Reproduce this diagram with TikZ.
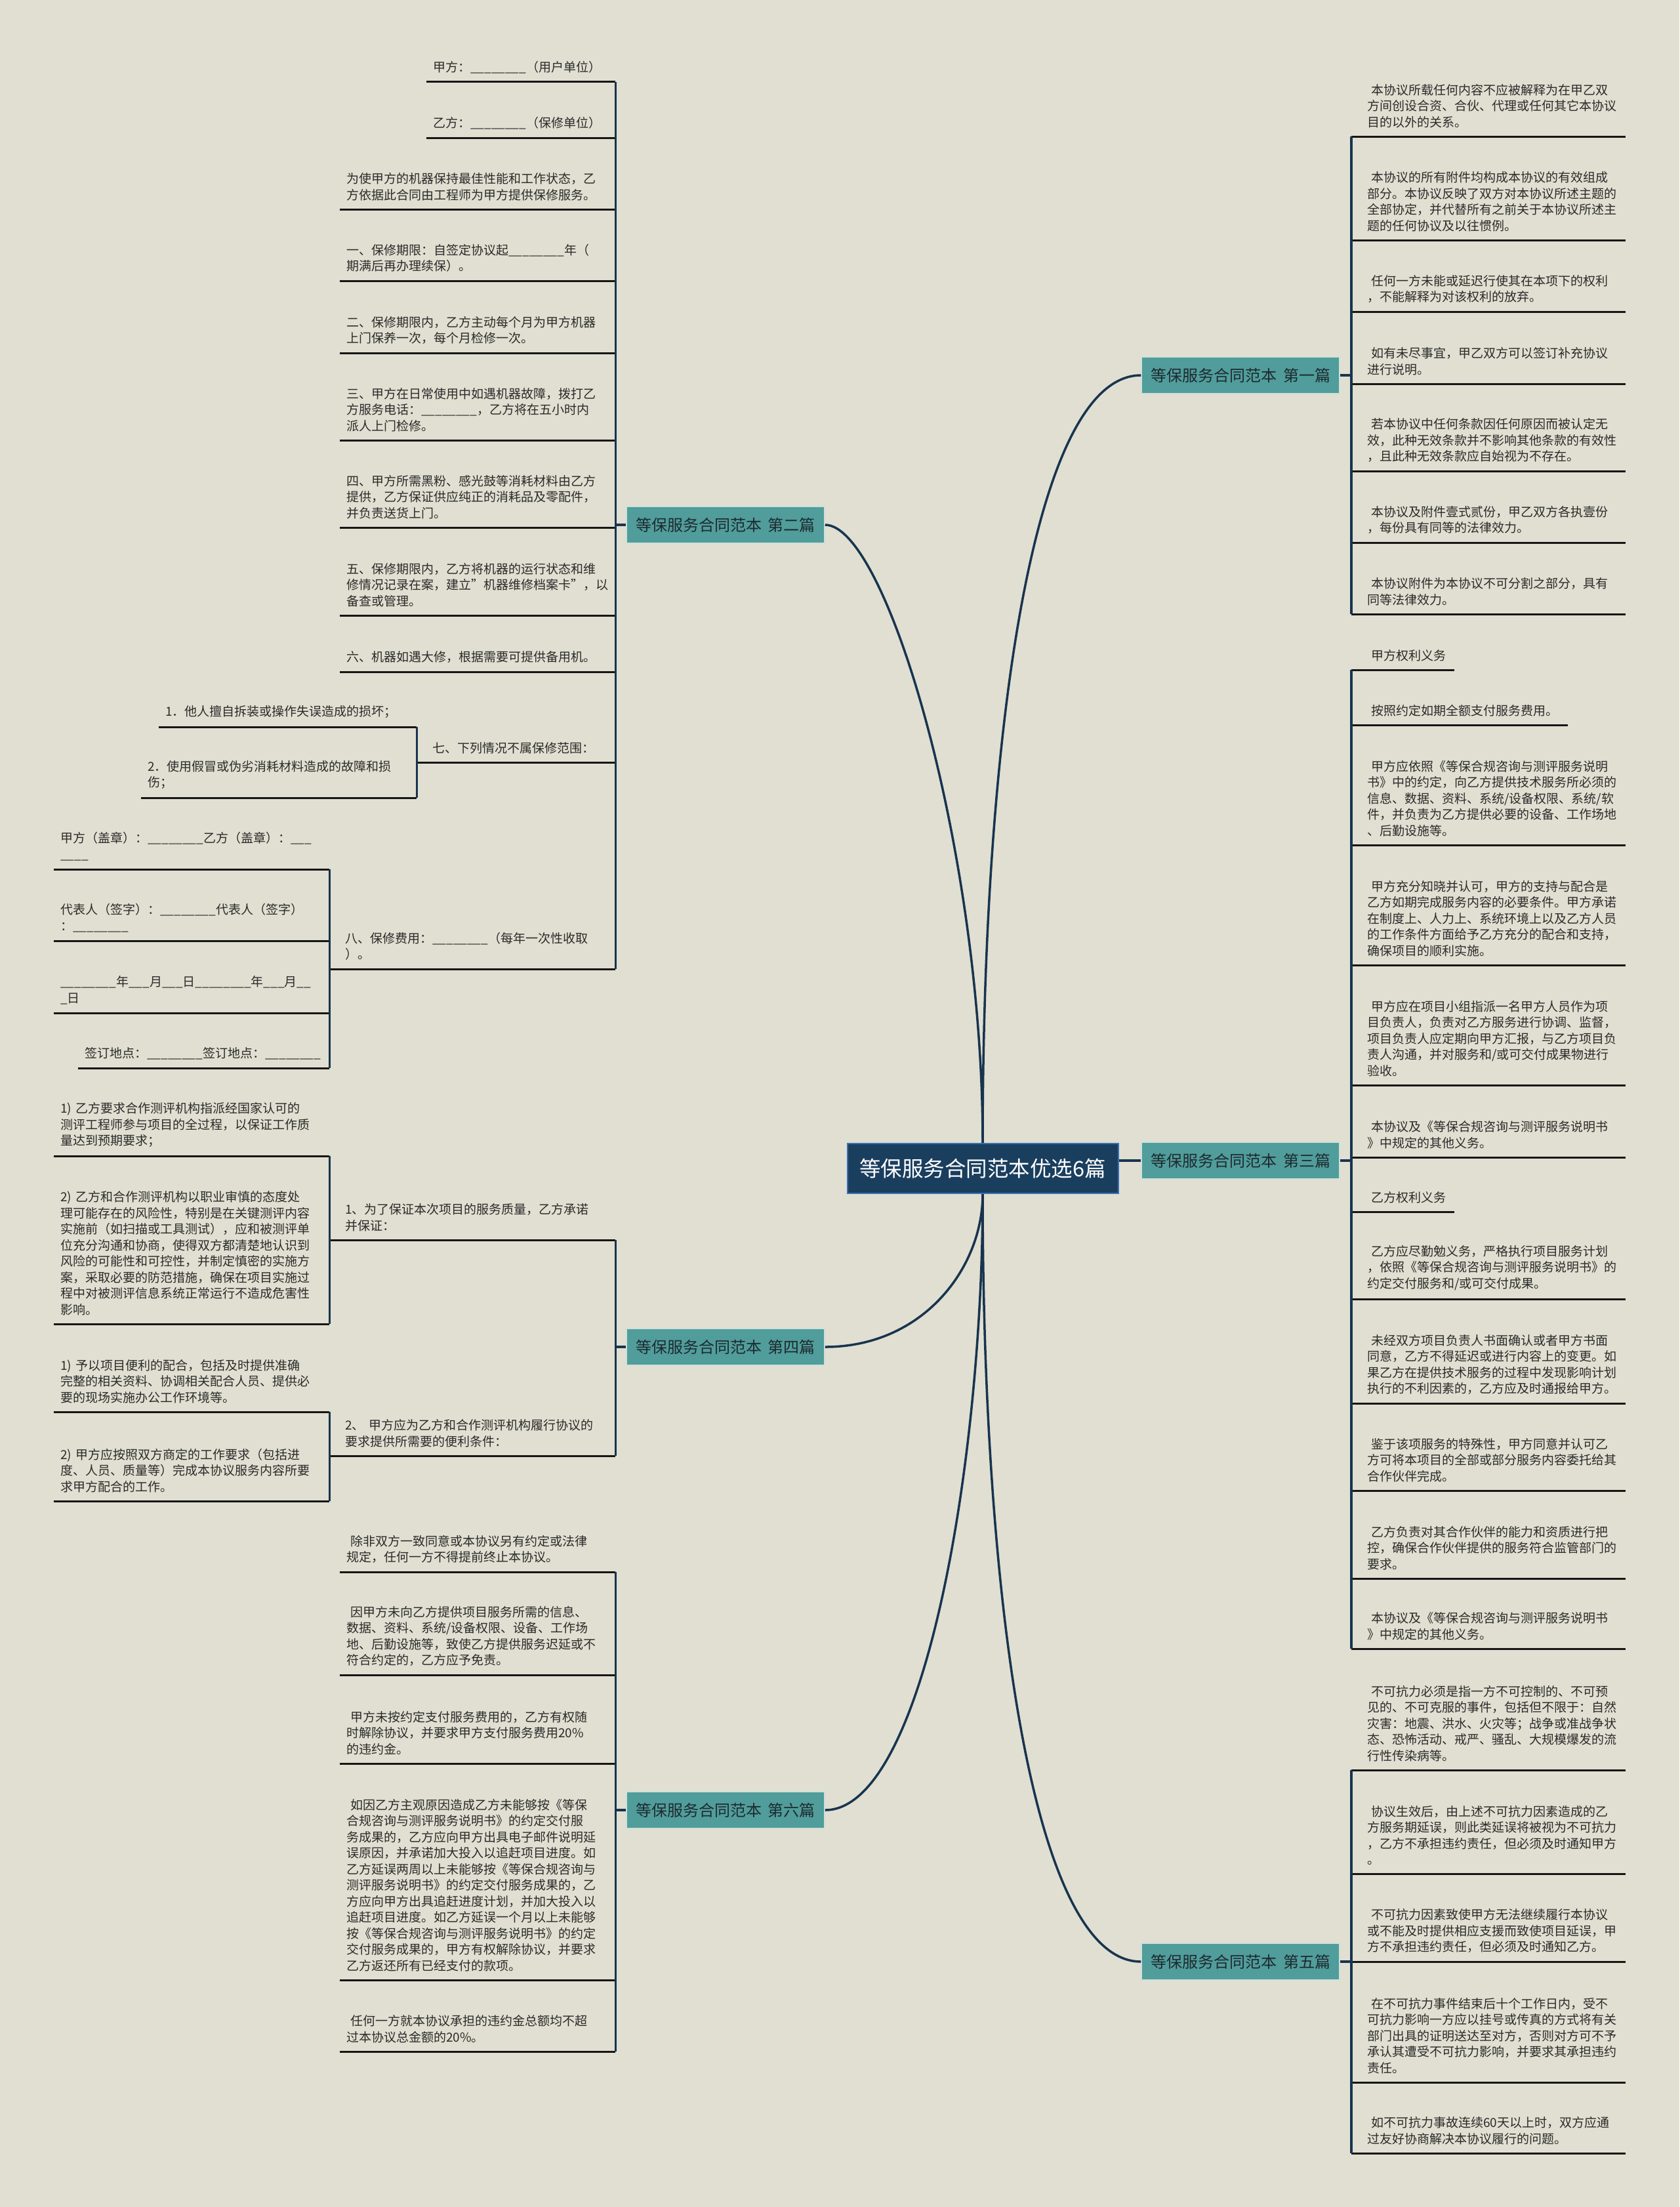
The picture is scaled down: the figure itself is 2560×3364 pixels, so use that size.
\documentclass[tikz,border=0pt]{standalone}
\usepackage{fontspec}
\setmainfont{Noto Sans CJK SC}
\usetikzlibrary{calc}
\definecolor{bgc}{RGB}{224,223,209}
\definecolor{rootfill}{RGB}{26,62,94}
\definecolor{rootline}{RGB}{60,112,182}
\definecolor{branchfill}{RGB}{80,157,155}
\definecolor{branchline}{RGB}{208,224,218}
\definecolor{branchtext}{RGB}{30,42,48}
\definecolor{linkc}{RGB}{24,52,79}
\definecolor{rulec}{RGB}{22,22,22}
\definecolor{leaftext}{RGB}{42,42,42}
\newcommand{\leaffont}{\fontsize{19pt}{24.5pt}\selectfont}
\newcommand{\indt}{\hspace*{6pt}}
\newcommand{\bl}{\_\_\_\_\_\_\_\_}
\tikzset{
  leaf/.style={
    anchor=south west,
    align=left,
    inner xsep=10pt,
    inner ysep=13pt,
    font=\leaffont,
    text=leaftext
  },
  hub/.style={
    leaf,
    inner xsep=24pt
  },
  branch/.style={
    draw=branchline,
    line width=1.5pt,
    fill=branchfill,
    text=branchtext,
    minimum width=302pt,
    minimum height=56pt,
    inner sep=0pt,
    font=\fontsize{24pt}{27pt}\selectfont
  },
  root box/.style={
    draw=rootline,
    line width=2pt,
    fill=rootfill,
    text=white,
    minimum width=413pt,
    minimum height=76pt,
    inner sep=0pt,
    font=\fontsize{32.5pt}{36pt}\selectfont
  },
  link/.style={
    draw=linkc,
    line width=3.5pt
  },
  bracket/.style={
    draw=linkc,
    line width=3.5pt
  },
  rule/.style={
    draw=rulec,
    line width=3pt
  }
}

\begin{document}
\begin{tikzpicture}[x=1pt, y=-1pt]

  %% ---- 背景 ----
  \fill[bgc] (0,0) rectangle (2560,3364);
  \useasboundingbox (0,0) rectangle (2560,3364);

  %% ---- 中心主题与六个分支 ----
  \node[root box] (root) at (1498,1781) {等保服务合同范本优选6篇};

  \node[branch] (b1) at (1891,572)  {等保服务合同范本\hspace{10pt}第一篇};
  \node[branch] (b3) at (1891,1769) {等保服务合同范本\hspace{10pt}第三篇};
  \node[branch] (b5) at (1891,2990) {等保服务合同范本\hspace{10pt}第五篇};
  \node[branch] (b2) at (1106,800)  {等保服务合同范本\hspace{10pt}第二篇};
  \node[branch] (b4) at (1106,2053) {等保服务合同范本\hspace{10pt}第四篇};
  \node[branch] (b6) at (1106,2759) {等保服务合同范本\hspace{10pt}第六篇};

  % 中心到分支的曲线
  \draw[link] (root.north) .. controls +(0,-593) and +(-170,0) .. (b1.west);
  \draw[link] (b3.west) -- (b3.west -| root.east);
  \draw[link] (root.south) .. controls +(0,593) and +(-170,0) .. (b5.west);
  \draw[link] (root.north) .. controls +(0,-443) and +(94,0) .. (b2.east);
  \draw[link] (root.south) .. controls +(0,112) and +(150,0) .. (b4.east);
  \draw[link] (root.south) .. controls +(0,412) and +(150,0) .. (b6.east);

  %% ---- 第二篇（左上）----
  \node[leaf, text width=268pt] (l2a) at (650,125) {甲方：\bl（用户单位）};
  \node[leaf, text width=268pt] (l2b) at (650,210) {乙方：\bl（保修单位）};
  \node[leaf, text width=400pt] (l2c) at (518,319)
    {为使甲方的机器保持最佳性能和工作状态，乙\\方依据此合同由工程师为甲方提供保修服务。};
  \node[leaf, text width=400pt] (l2d) at (518,428)
    {一、保修期限：自签定协议起\bl 年（\\期满后再办理续保）。};
  \node[leaf, text width=400pt] (l2e) at (518,538)
    {二、保修期限内，乙方主动每个月为甲方机器\\上门保养一次，每个月检修一次。};
  \node[leaf, text width=400pt] (l2f) at (518,671)
    {三、甲方在日常使用中如遇机器故障，拨打乙\\方服务电话：\bl，乙方将在五小时内\\派人上门检修。};
  \node[leaf, text width=400pt] (l2g) at (518,804)
    {四、甲方所需黑粉、感光鼓等消耗材料由乙方\\提供，乙方保证供应纯正的消耗品及零配件，\\并负责送货上门。};
  \node[leaf, text width=400pt] (l2h) at (518,938)
    {五、保修期限内，乙方将机器的运行状态和维\\修情况记录在案，建立"机器维修档案卡"，以\\备查或管理。};
  \node[leaf, text width=400pt] (l2i) at (518,1024)
    {六、机器如遇大修，根据需要可提供备用机。};
  \node[hub, text width=255pt] (l2j) at (635,1162) {七、下列情况不属保修范围：};
  \node[hub, text width=388pt] (l2k) at (502,1477)
    {八、保修费用：\bl（每年一次性收取\\）。};

  % 七的下级
  \node[leaf, text width=373pt] (l2j1) at (242,1108) {1．他人擅自拆装或操作失误造成的损坏；};
  \node[leaf, text width=400pt] (l2j2) at (215,1216)
    {2．使用假冒或伪劣消耗材料造成的故障和损\\伤；};

  % 八的下级
  \node[leaf, text width=400pt] (l2k1) at (82,1325)
    {甲方（盖章）：\bl 乙方（盖章）：\_\_\_\\\_\_\_\_};
  \node[leaf, text width=400pt] (l2k2) at (82,1434)
    {代表人（签字）：\bl 代表人（签字）\\：\bl};
  \node[leaf, text width=400pt] (l2k3) at (82,1544)
    {\bl 年\_\_\_月\_\_\_日\bl 年\_\_\_月\_\_\\\_日};
  \node[leaf, text width=363pt] (l2k4) at (119,1628) {签订地点：\bl 签订地点：\bl};

  %% ---- 第四篇（左中）----
  \node[hub, text width=388pt] (m1) at (502,1890)
    {1、为了保证本次项目的服务质量，乙方承诺\\并保证：};
  \node[hub, text width=388pt] (m2) at (502,2219)
    {2、 甲方应为乙方和合作测评机构履行协议的\\要求提供所需要的便利条件：};

  \node[leaf, text width=400pt] (m1a) at (82,1762)
    {1) 乙方要求合作测评机构指派经国家认可的\\测评工程师参与项目的全过程，以保证工作质\\量达到预期要求；};
  \node[leaf, text width=400pt] (m1b) at (82,2018)
    {2) 乙方和合作测评机构以职业审慎的态度处\\理可能存在的风险性，特别是在关键测评内容\\实施前（如扫描或工具测试），应和被测评单\\位充分沟通和协商，使得双方都清楚地认识到\\风险的可能性和可控性，并制定慎密的实施方\\案，采取必要的防范措施，确保在项目实施过\\程中对被测评信息系统正常运行不造成危害性\\影响。};
  \node[leaf, text width=400pt] (m2a) at (82,2152)
    {1) 予以项目便利的配合，包括及时提供准确\\完整的相关资料、协调相关配合人员、提供必\\要的现场实施办公工作环境等。};
  \node[leaf, text width=400pt] (m2b) at (82,2288)
    {2) 甲方应按照双方商定的工作要求（包括进\\度、人员、质量等）完成本协议服务内容所要\\求甲方配合的工作。};

  %% ---- 第六篇（左下）----
  \node[leaf, text width=400pt] (n1) at (518,2396)
    {\indt 除非双方一致同意或本协议另有约定或法律\\规定，任何一方不得提前终止本协议。};
  \node[leaf, text width=400pt] (n2) at (518,2553)
    {\indt 因甲方未向乙方提供项目服务所需的信息、\\数据、资料、系统/设备权限、设备、工作场\\地、后勤设施等，致使乙方提供服务迟延或不\\符合约定的，乙方应予免责。};
  \node[leaf, text width=400pt] (n3) at (518,2688)
    {\indt 甲方未按约定支付服务费用的，乙方有权随\\时解除协议，并要求甲方支付服务费用20\%\\的违约金。};
  \node[leaf, text width=400pt] (n4) at (518,3018)
    {\indt 如因乙方主观原因造成乙方未能够按《等保\\合规咨询与测评服务说明书》的约定交付服\\务成果的，乙方应向甲方出具电子邮件说明延\\误原因，并承诺加大投入以追赶项目进度。如\\乙方延误两周以上未能够按《等保合规咨询与\\测评服务说明书》的约定交付服务成果的，乙\\方应向甲方出具追赶进度计划，并加大投入以\\追赶项目进度。如乙方延误一个月以上未能够\\按《等保合规咨询与测评服务说明书》的约定\\交付服务成果的，甲方有权解除协议，并要求\\乙方返还所有已经支付的款项。};
  \node[leaf, text width=400pt] (n5) at (518,3127)
    {\indt 任何一方就本协议承担的违约金总额均不超\\过本协议总金额的20\%。};

  %% ---- 第一篇（右上）----
  \node[leaf, text width=384pt] (r1a) at (2074,208)
    {\indt 本协议所载任何内容不应被解释为在甲乙双\\方间创设合资、合伙、代理或任何其它本协议\\目的以外的关系。};
  \node[leaf, text width=384pt] (r1b) at (2074,366)
    {\indt 本协议的所有附件均构成本协议的有效组成\\部分。本协议反映了双方对本协议所述主题的\\全部协定，并代替所有之前关于本协议所述主\\题的任何协议及以往惯例。};
  \node[leaf, text width=384pt] (r1c) at (2074,475)
    {\indt 任何一方未能或延迟行使其在本项下的权利\\，不能解释为对该权利的放弃。};
  \node[leaf, text width=384pt] (r1d) at (2074,585)
    {\indt 如有未尽事宜，甲乙双方可以签订补充协议\\进行说明。};
  \node[leaf, text width=384pt] (r1e) at (2074,718)
    {\indt 若本协议中任何条款因任何原因而被认定无\\效，此种无效条款并不影响其他条款的有效性\\，且此种无效条款应自始视为不存在。};
  \node[leaf, text width=384pt] (r1f) at (2074,827)
    {\indt 本协议及附件壹式贰份，甲乙双方各执壹份\\，每份具有同等的法律效力。};
  \node[leaf, text width=384pt] (r1g) at (2074,936)
    {\indt 本协议附件为本协议不可分割之部分，具有\\同等法律效力。};

  %% ---- 第三篇（右中）----
  \node[leaf, text width=123pt] (s1) at (2074,1021) {\indt 甲方权利义务};
  \node[leaf, text width=296pt] (s2) at (2074,1105) {\indt 按照约定如期全额支付服务费用。};
  \node[leaf, text width=384pt] (s3) at (2074,1288)
    {\indt 甲方应依照《等保合规咨询与测评服务说明\\书》中的约定，向乙方提供技术服务所必须的\\信息、数据、资料、系统/设备权限、系统/软\\件，并负责为乙方提供必要的设备、工作场地\\、后勤设施等。};
  \node[leaf, text width=384pt] (s4) at (2074,1471)
    {\indt 甲方充分知晓并认可，甲方的支持与配合是\\乙方如期完成服务内容的必要条件。甲方承诺\\在制度上、人力上、系统环境上以及乙方人员\\的工作条件方面给予乙方充分的配合和支持，\\确保项目的顺利实施。};
  \node[leaf, text width=384pt] (s5) at (2074,1654)
    {\indt 甲方应在项目小组指派一名甲方人员作为项\\目负责人，负责对乙方服务进行协调、监督，\\项目负责人应定期向甲方汇报，与乙方项目负\\责人沟通，并对服务和/或可交付成果物进行\\验收。};
  \node[leaf, text width=384pt] (s6) at (2074,1764)
    {\indt 本协议及《等保合规咨询与测评服务说明书\\》中规定的其他义务。};
  \node[leaf, text width=123pt] (s7) at (2074,1847) {\indt 乙方权利义务};
  \node[leaf, text width=384pt] (s8) at (2074,1980)
    {\indt 乙方应尽勤勉义务，严格执行项目服务计划\\，依照《等保合规咨询与测评服务说明书》的\\约定交付服务和/或可交付成果。};
  \node[leaf, text width=384pt] (s9) at (2074,2139)
    {\indt 未经双方项目负责人书面确认或者甲方书面\\同意，乙方不得延迟或进行内容上的变更。如\\果乙方在提供技术服务的过程中发现影响计划\\执行的不利因素的，乙方应及时通报给甲方。};
  \node[leaf, text width=384pt] (s10) at (2074,2272)
    {\indt 鉴于该项服务的特殊性，甲方同意并认可乙\\方可将本项目的全部或部分服务内容委托给其\\合作伙伴完成。};
  \node[leaf, text width=384pt] (s11) at (2074,2406)
    {\indt 乙方负责对其合作伙伴的能力和资质进行把\\控，确保合作伙伴提供的服务符合监管部门的\\要求。};
  \node[leaf, text width=384pt] (s12) at (2074,2513)
    {\indt 本协议及《等保合规咨询与测评服务说明书\\》中规定的其他义务。};

  %% ---- 第五篇（右下）----
  \node[leaf, text width=384pt] (t1) at (2074,2698)
    {\indt 不可抗力必须是指一方不可控制的、不可预\\见的、不可克服的事件，包括但不限于：自然\\灾害：地震、洪水、火灾等；战争或准战争状\\态、恐怖活动、戒严、骚乱、大规模爆发的流\\行性传染病等。};
  \node[leaf, text width=384pt] (t2) at (2074,2856)
    {\indt 协议生效后，由上述不可抗力因素造成的乙\\方服务期延误，则此类延误将被视为不可抗力\\，乙方不承担违约责任，但必须及时通知甲方\\。};
  \node[leaf, text width=384pt] (t3) at (2074,2990)
    {\indt 不可抗力因素致使甲方无法继续履行本协议\\或不能及时提供相应支援而致使项目延误，甲\\方不承担违约责任，但必须及时通知乙方。};
  \node[leaf, text width=384pt] (t4) at (2074,3174)
    {\indt 在不可抗力事件结束后十个工作日内，受不\\可抗力影响一方应以挂号或传真的方式将有关\\部门出具的证明送达至对方，否则对方可不予\\承认其遭受不可抗力影响，并要求其承担违约\\责任。};
  \node[leaf, text width=384pt] (t5) at (2074,3282)
    {\indt 如不可抗力事故连续60天以上时，双方应通\\过友好协商解决本协议履行的问题。};

  %% ---- 下划线 ----
  \foreach \n in {l2a,l2b,l2c,l2d,l2e,l2f,l2g,l2h,l2i,l2j,l2k,l2j1,l2j2,
                  l2k1,l2k2,l2k3,l2k4,m1,m2,m1a,m1b,m2a,m2b,n1,n2,n3,n4,n5}
    \draw[rule] (\n.south west) -- (\n.south east);
  \foreach \n in {r1a,r1b,r1c,r1d,r1e,r1f,r1g,s1,s2,s3,s4,s5,s6,s7,s8,s9,
                  s10,s11,s12,t1,t2,t3,t4,t5}
    \draw[rule] ([xshift=-14pt]\n.south west) -- (\n.south east);

  %% ---- 竖线与短接线 ----
  \coordinate (k1) at ([xshift=-14pt]r1a.south west);
  \coordinate (k3) at ([xshift=-14pt]s1.south west);
  \coordinate (k5) at ([xshift=-14pt]t1.south west);

  \draw[bracket] (k1) -- ([xshift=-14pt]r1g.south west);
  \draw[link] (b1.east) -- (b1.east -| k1);
  \draw[bracket] (k3) -- ([xshift=-14pt]s12.south west);
  \draw[link] (b3.east) -- (b3.east -| k3);
  \draw[bracket] (k5) -- ([xshift=-14pt]t5.south west);
  \draw[link] (b5.east) -- (b5.east -| k5);

  \draw[bracket] (l2a.south east) -- (l2k.south east);
  \draw[link] (b2.west) -- (b2.west -| l2a.south east);
  \draw[bracket] (l2j1.south east) -- (l2j2.south east);
  \draw[bracket] (l2k1.south east) -- (l2k4.south east);

  \draw[bracket] (m1.south east) -- (m2.south east);
  \draw[link] (b4.west) -- (b4.west -| m1.south east);
  \draw[bracket] (m1a.south east) -- (m1b.south east);
  \draw[bracket] (m2a.south east) -- (m2b.south east);

  \draw[bracket] (n1.south east) -- (n5.south east);
  \draw[link] (b6.west) -- (b6.west -| n1.south east);

\end{tikzpicture}
\end{document}
